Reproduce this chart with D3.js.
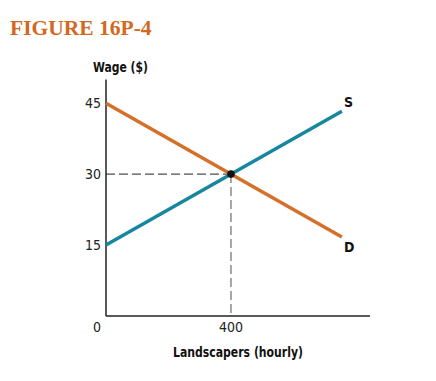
<!DOCTYPE html>
<html>
<head>
<meta charset="utf-8">
<script src="https://cdn.jsdelivr.net/npm/d3@7"></script>
<style>
  body { margin: 0; background: #fff; }
  .narrow { font-family: "DejaVu Sans Condensed", "Liberation Sans Narrow", "Liberation Sans", sans-serif; font-stretch: condensed; }
</style>
</head>
<body>
<svg id="chart" width="436" height="381"></svg>
<script>
// Chart values
var quantityDomain = [0, 845];
var wageDomain = [0, 50];
var supplyPts = [[0, 15], [755, 43.3]];
var demandPts = [[0, 45], [755, 16.7]];
var equilibrium = [400, 30];
var yTicks = [15, 30, 45];
var xTicks = [0, 400];

var svg = d3.select("#chart");

var x = d3.scaleLinear().domain(quantityDomain).range([106, 370]);
var y = d3.scaleLinear().domain(wageDomain).range([316, 79.5]);

var orange = "#d4702a",
    teal = "#17869f";

// Title
svg.append("text")
    .attr("x", 10)
    .attr("y", 35)
    .style("font-family", "'Liberation Serif', 'DejaVu Serif', serif")
    .style("font-weight", "bold")
    .style("font-size", "21.5px")
    .style("fill", "#d2691f")
    .text("FIGURE 16P-4");

// Axes
svg.append("line")
    .attr("x1", x(0)).attr("y1", y(wageDomain[1]))
    .attr("x2", x(0)).attr("y2", y(0))
    .attr("stroke", "#222").attr("stroke-width", 1.5);
svg.append("line")
    .attr("x1", x(0)).attr("y1", y(0))
    .attr("x2", x(quantityDomain[1])).attr("y2", y(0))
    .attr("stroke", "#222").attr("stroke-width", 1.5);

// Tick labels
svg.selectAll(".ylab")
    .data(yTicks)
    .enter().append("text")
    .attr("class", "ylab narrow")
    .attr("x", x(0) - 5)
    .attr("y", function(d) { return y(d) + 5; })
    .attr("text-anchor", "end")
    .style("font-size", "14px")
    .style("fill", "#222")
    .text(function(d) { return d; });

svg.selectAll(".xlab")
    .data(xTicks)
    .enter().append("text")
    .attr("class", "xlab narrow")
    .attr("x", function(d) { return d === 0 ? x(0) - 9 : x(d); })
    .attr("y", 332)
    .attr("text-anchor", "middle")
    .style("font-size", "14px")
    .style("fill", "#222")
    .text(function(d) { return d; });

// Axis titles
svg.append("text")
    .attr("class", "narrow")
    .attr("x", 93)
    .attr("y", 72)
    .attr("textLength", 55)
    .attr("lengthAdjust", "spacingAndGlyphs")
    .style("font-size", "14px")
    .style("font-weight", "bold")
    .style("fill", "#111")
    .text("Wage ($)");

svg.append("text")
    .attr("class", "narrow")
    .attr("x", 173)
    .attr("y", 357)
    .attr("textLength", 130)
    .attr("lengthAdjust", "spacingAndGlyphs")
    .style("font-size", "14px")
    .style("font-weight", "bold")
    .style("fill", "#111")
    .text("Landscapers (hourly)");

// Dashed guides to equilibrium
svg.append("line")
    .attr("x1", x(0)).attr("y1", y(equilibrium[1]))
    .attr("x2", x(equilibrium[0])).attr("y2", y(equilibrium[1]))
    .attr("stroke", "#222").attr("stroke-width", 1)
    .attr("stroke-dasharray", "9,4");
svg.append("line")
    .attr("x1", x(equilibrium[0])).attr("y1", y(equilibrium[1]))
    .attr("x2", x(equilibrium[0])).attr("y2", y(0))
    .attr("stroke", "#777").attr("stroke-width", 1.3)
    .attr("stroke-dasharray", "9,4");

// Supply and demand
var line = d3.line()
    .x(function(d) { return x(d[0]); })
    .y(function(d) { return y(d[1]); });

svg.append("path")
    .datum(demandPts)
    .attr("d", line)
    .attr("fill", "none")
    .attr("stroke", orange)
    .attr("stroke-width", 3.5);

svg.append("path")
    .datum(supplyPts)
    .attr("d", line)
    .attr("fill", "none")
    .attr("stroke", teal)
    .attr("stroke-width", 3.5);

svg.append("circle")
    .attr("cx", x(equilibrium[0]))
    .attr("cy", y(equilibrium[1]))
    .attr("r", 3.8)
    .attr("fill", "#111");

// Curve labels
svg.append("text")
    .attr("class", "narrow")
    .attr("x", x(supplyPts[1][0]) + 2)
    .attr("y", y(supplyPts[1][1]) - 4)
    .style("font-size", "14px")
    .style("font-weight", "bold")
    .style("fill", "#111")
    .text("S");

svg.append("text")
    .attr("class", "narrow")
    .attr("x", x(demandPts[1][0]) + 2)
    .attr("y", y(demandPts[1][1]) + 15)
    .style("font-size", "14px")
    .style("font-weight", "bold")
    .style("fill", "#111")
    .text("D");
</script>
</body>
</html>
